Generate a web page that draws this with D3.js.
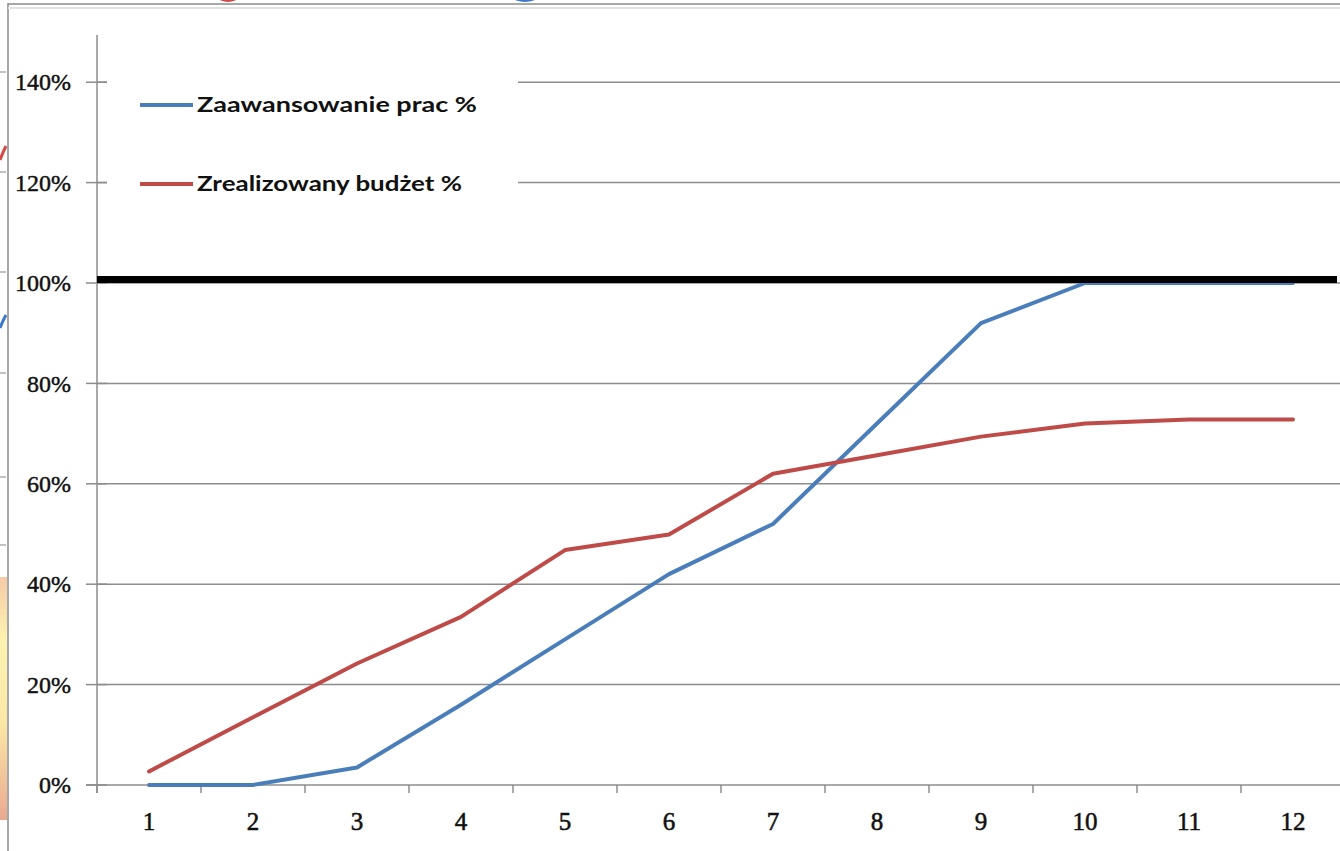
<!DOCTYPE html>
<html>
<head>
<meta charset="utf-8">
<script src="https://cdn.jsdelivr.net/npm/d3@7"></script>
<style>
  html, body { margin: 0; padding: 0; background: #ffffff; overflow: hidden; }
  svg { display: block; }
</style>
</head>
<body>
<svg id="chart" width="1340" height="851"></svg>
<script>
// Months of the project
const categories = ["1", "2", "3", "4", "5", "6", "7", "8", "9", "10", "11", "12"];
// Work progress (share of the scope completed)
const progress = [0, 0, 0.035, 0.16, 0.29, 0.42, 0.52, 0.72, 0.92, 1.0, 1.0, 1.0];
// Budget spent (share of the total budget)
const budget = [0.027, 0.135, 0.242, 0.335, 0.468, 0.499, 0.62, 0.657, 0.694, 0.72, 0.728, 0.728];
const seriesNames = ["Zaawansowanie prac %", "Zrealizowany budżet %"];
const yTicks = [0, 0.2, 0.4, 0.6, 0.8, 1.0, 1.2, 1.4];
const targetLevel = 1.0;

const svg = d3.select("#chart");
const plot = { left: 97, right: 1345, top: 32, bottom: 785 };

const x = d3.scaleBand().domain(categories).range([plot.left, plot.right]);
const y = d3.scaleLinear().domain([0, 1.5]).range([plot.bottom, plot.top]);

const gridColor = "#8c8c8c";
const serif = "'Liberation Serif', 'Times New Roman', serif";

// slide remnants around the chart frame
const deco = svg.append("g");
const grad = svg.append("defs").append("linearGradient")
  .attr("id", "warm").attr("x1", 0).attr("y1", 0).attr("x2", 0).attr("y2", 1);
grad.append("stop").attr("offset", "0%").attr("stop-color", "#f6c9a8");
grad.append("stop").attr("offset", "25%").attr("stop-color", "#fdf3b0");
grad.append("stop").attr("offset", "60%").attr("stop-color", "#fbe7a6");
grad.append("stop").attr("offset", "100%").attr("stop-color", "#e9a990");
deco.append("rect").attr("x", 0).attr("y", 577).attr("width", 7).attr("height", 243)
  .attr("fill", "url(#warm)");
deco.append("path").attr("d", "M0,160 Q3,152 6,146").attr("stroke", "#d04a48")
  .attr("stroke-width", 3).attr("fill", "none");
deco.append("path").attr("d", "M0,328 Q3,320 6,315").attr("stroke", "#3f78c8")
  .attr("stroke-width", 3).attr("fill", "none");
[72, 172, 272, 373, 477, 545].forEach(v => {
  deco.append("line").attr("x1", 0).attr("x2", 6).attr("y1", v).attr("y2", v)
    .attr("stroke", "#9a9a9a").attr("stroke-width", 1.2);
});
deco.append("ellipse").attr("cx", 228).attr("cy", -3).attr("rx", 10).attr("ry", 5).attr("fill", "#d04a48");
deco.append("ellipse").attr("cx", 525).attr("cy", -3).attr("rx", 12).attr("ry", 5).attr("fill", "#3f78c8");

// chart frame
svg.append("line").attr("x1", 8).attr("x2", 8).attr("y1", 3).attr("y2", 851)
  .attr("stroke", "#8a8a8a").attr("stroke-width", 1.5);
svg.append("line").attr("x1", 8).attr("x2", 1340).attr("y1", 4).attr("y2", 4)
  .attr("stroke", "#8a8a8a").attr("stroke-width", 1.5);
svg.append("line").attr("x1", 8).attr("x2", 1340).attr("y1", 8).attr("y2", 8)
  .attr("stroke", "#e2e2e2").attr("stroke-width", 2);

// horizontal gridlines
svg.append("g").selectAll("line").data(yTicks.filter(d => d > 0)).join("line")
  .attr("x1", plot.left).attr("x2", 1340)
  .attr("y1", d => y(d)).attr("y2", d => y(d))
  .attr("stroke", gridColor).attr("stroke-width", 1.5);

// y axis: labels, crossing tick marks and the axis line
const yAxis = svg.append("g").attr("transform", `translate(${plot.left},0)`)
  .call(d3.axisLeft(y).tickValues(yTicks).tickFormat(d3.format(".0%")).tickSize(0).tickPadding(26));
yAxis.select(".domain").remove();
yAxis.selectAll("text").attr("font-family", serif).attr("font-size", 24).attr("fill", "#111")
  .attr("stroke", "#111").attr("stroke-width", 0.45);
svg.append("g").selectAll("line").data(yTicks).join("line")
  .attr("x1", plot.left - 11).attr("x2", plot.left + 10)
  .attr("y1", d => y(d)).attr("y2", d => y(d))
  .attr("stroke", gridColor).attr("stroke-width", 1.5);
svg.append("line").attr("x1", plot.left).attr("x2", plot.left)
  .attr("y1", 35).attr("y2", plot.bottom + 8)
  .attr("stroke", gridColor).attr("stroke-width", 1.5);

// x axis: line, tick marks on category boundaries, labels
svg.append("line").attr("x1", plot.left - 11).attr("x2", 1340)
  .attr("y1", plot.bottom).attr("y2", plot.bottom)
  .attr("stroke", gridColor).attr("stroke-width", 1.5);
svg.append("g").selectAll("line").data(d3.range(categories.length + 1)).join("line")
  .attr("x1", i => plot.left + i * x.step()).attr("x2", i => plot.left + i * x.step())
  .attr("y1", plot.bottom).attr("y2", plot.bottom + 8)
  .attr("stroke", gridColor).attr("stroke-width", 1.5);
const xAxis = svg.append("g").attr("transform", `translate(0,${plot.bottom})`)
  .call(d3.axisBottom(x).tickSize(0));
xAxis.select(".domain").remove();
xAxis.selectAll("text").attr("y", 36).attr("dy", "0.35em")
  .attr("font-family", serif).attr("font-size", 25).attr("fill", "#111")
  .attr("stroke", "#111").attr("stroke-width", 0.55);

// legend panel
svg.append("rect").attr("x", plot.left + 10).attr("y", 40).attr("width", 411).attr("height", 190)
  .attr("fill", "#ffffff");

// series
const colors = ["#4A7EBB", "#BE4B48"];
const line = d3.line().x((d, i) => x(categories[i]) + x.bandwidth() / 2).y(d => y(d));
[progress, budget].forEach((s, k) => {
  svg.append("path").datum(s).attr("d", line)
    .attr("fill", "none").attr("stroke", colors[k]).attr("stroke-width", 4)
    .attr("stroke-linejoin", "round").attr("stroke-linecap", "round");
});

// target level bar resting on the 100% gridline
svg.append("rect").attr("x", plot.left).attr("y", y(targetLevel) - 7)
  .attr("width", 1337 - plot.left).attr("height", 7).attr("fill", "#000");

// legend entries
const legendY = [105, 184];
const legendW = [280, 265];
seriesNames.forEach((name, k) => {
  svg.append("line").attr("x1", 140).attr("x2", 193)
    .attr("y1", legendY[k]).attr("y2", legendY[k])
    .attr("stroke", colors[k]).attr("stroke-width", 4);
  svg.append("text").attr("x", 197).attr("y", legendY[k]).attr("dy", "0.35em")
    .attr("font-family", "Lato, 'Open Sans', sans-serif").attr("font-weight", "bold")
    .attr("font-size", 20).attr("fill", "#111")
    .attr("textLength", legendW[k]).attr("lengthAdjust", "spacingAndGlyphs")
    .text(name);
});
</script>
</body>
</html>
